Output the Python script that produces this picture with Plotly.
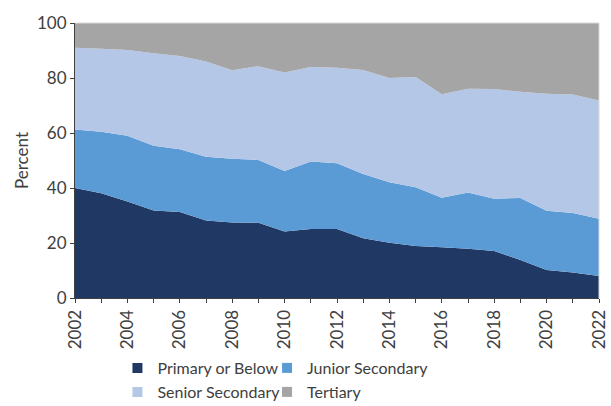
import plotly.graph_objects as go

years = list(range(2002, 2023))
primary = [40.0, 38.1, 35.1, 31.8, 31.3, 28.2, 27.5, 27.4, 24.2, 25.1, 25.1,
           21.7, 20.1, 18.9, 18.5, 17.9, 17.1, 13.8, 10.2, 9.3, 8.0]
junior = [21.3, 22.4, 23.9, 23.6, 22.8, 23.2, 23.1, 22.8, 22.0, 24.5, 23.9,
          23.4, 22.0, 21.4, 18.0, 20.5, 19.0, 22.6, 21.5, 21.6, 20.8]
senior = [29.7, 30.1, 31.2, 33.6, 33.9, 34.6, 32.2, 34.1, 35.8, 34.4, 34.7,
          37.8, 37.9, 40.1, 37.6, 37.7, 39.9, 38.6, 42.6, 43.1, 43.0]
tertiary = [9.0, 9.4, 9.8, 11.0, 12.0, 14.0, 17.2, 15.7, 18.0, 16.0, 16.3,
            17.1, 20.0, 19.6, 25.9, 23.9, 24.0, 25.0, 25.7, 26.0, 28.2]
names = ["Primary or Below", "Junior Secondary", "Senior Secondary", "Tertiary"]
colors = ["#203864", "#5B9BD5", "#B4C7E7", "#A5A5A5"]
xtick_labels = [str(y) if y % 2 == 0 else "" for y in years]
yticks = [0, 20, 40, 60, 80, 100]

FONT = "Lato"
TXT = "#404040"

fig = go.Figure()
for name, vals, col in zip(names, [primary, junior, senior, tertiary], colors):
    fig.add_trace(go.Scatter(x=years, y=vals, stackgroup="one", mode="none",
                             fillcolor=col, name=name, showlegend=False,
                             hoverinfo="x+y+name"))

legend_ids = ["legend", "legend2", "legend3", "legend4"]
for name, col, lg in zip(names, colors, legend_ids):
    fig.add_trace(go.Scatter(x=[None], y=[None], mode="markers",
                             marker=dict(symbol="square", size=10, color=col),
                             name=name, legend=lg, showlegend=True))

leg_common = dict(orientation="h", xref="paper", xanchor="left",
                  yref="container", yanchor="top",
                  font=dict(size=16), bgcolor="rgba(0,0,0,0)")
col_x = [0.081, 0.3665]
row_y = [1 - 351 / 406, 1 - 375 / 406]

fig.update_layout(
    width=611, height=406,
    margin=dict(l=75, r=12, t=23, b=108, autoexpand=False),
    plot_bgcolor="white", paper_bgcolor="white",
    font=dict(family=FONT, size=17, color=TXT),
    xaxis=dict(range=[2002, 2022], tickvals=years, ticktext=xtick_labels,
               tickangle=-90, ticks="outside", ticklen=4, tickcolor=TXT,
               showline=True, linecolor=TXT, linewidth=1, showgrid=False,
               zeroline=False, automargin=False, tickfont=dict(size=17)),
    yaxis=dict(range=[0, 100], tickvals=yticks, ticks="outside", ticklen=4,
               tickcolor=TXT, showline=True, linecolor=TXT, linewidth=1,
               showgrid=False, zeroline=False, automargin=False,
               tickfont=dict(size=17),
               title=dict(text="Percent", standoff=4, font=dict(size=17))),
    legend=dict(x=col_x[0], y=row_y[0], **leg_common),
    legend2=dict(x=col_x[1], y=row_y[0], **leg_common),
    legend3=dict(x=col_x[0], y=row_y[1], **leg_common),
    legend4=dict(x=col_x[1], y=row_y[1], **leg_common),
    shapes=[
        dict(type="line", xref="paper", yref="paper", x0=0, x1=1, y0=1, y1=1,
             line=dict(color="#D9D9D9", width=1)),
        dict(type="line", xref="paper", yref="paper", x0=1, x1=1, y0=0, y1=1,
             line=dict(color="#D9D9D9", width=1)),
    ],
)

fig.write_html("out.html", config={"displayModeBar": False},
               post_script="document.body.style.margin='0';document.body.style.overflow='hidden';")
